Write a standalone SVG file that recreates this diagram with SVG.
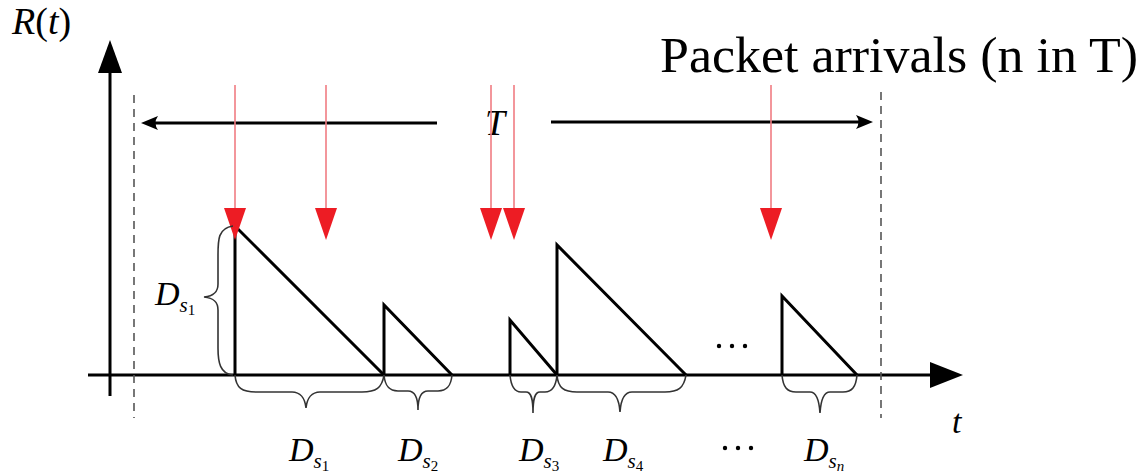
<svg xmlns="http://www.w3.org/2000/svg" width="1141" height="473" viewBox="0 0 1141 473">
<defs>
<style>
.ax{stroke:#000;stroke-width:3;fill:none}
.tri{stroke:#000;stroke-width:3;fill:none;stroke-linejoin:miter}
.br{stroke:#333;stroke-width:1.6;fill:none}
.dash{stroke:#555;stroke-width:1.6;stroke-dasharray:8,6;fill:none}
.rl{stroke:#f07c82;stroke-width:1.6}
.rh{fill:#ed1c24}
.m{font-family:"Liberation Serif",serif;font-style:italic;fill:#000}
.up{font-family:"Liberation Serif",serif;font-style:normal;fill:#000}
</style>
</defs>
<rect width="1141" height="473" fill="#fff"/>
<g id="axes">
<line class="ax" x1="110" y1="396" x2="110" y2="66"/>
<polygon points="110,40 98,73 122,73" fill="#000"/>
<line class="ax" x1="88" y1="375" x2="935" y2="375"/>
<polygon points="963,375 930,362 930,388" fill="#000"/>
</g>
<g id="dashes">
<line class="dash" x1="134" y1="95" x2="134" y2="418"/>
<line class="dash" x1="881" y1="92" x2="881" y2="418"/>
</g>
<g id="T-span">
<line class="ax" x1="150" y1="123" x2="437" y2="123" stroke-width="2.5"/>
<path d="M141,123 L158,116 Q153,123 158,130 Z" fill="#000"/>
<line class="ax" x1="551" y1="122" x2="864" y2="122" stroke-width="2.5"/>
<path d="M873,122 L856,115 Q861,122 856,129 Z" fill="#000"/>
<text class="m" x="485" y="135" font-size="36">T</text>
</g>
<g id="sawtooth">
<polyline class="tri" points="235,375 235,226 384,375"/>
<polyline class="tri" points="384,375 384,305 452,375"/>
<polyline class="tri" points="510,375 510,320 557,375"/>
<polyline class="tri" points="557,375 557,245 686,375"/>
<polyline class="tri" points="782,375 782,296 857,375"/>
</g>
<g id="arrivals">
<line class="rl" x1="235" y1="85" x2="235" y2="212"/>
<polygon class="rh" points="224,208 246,208 235,240"/>
<line class="rl" x1="326" y1="85" x2="326" y2="212"/>
<polygon class="rh" points="315,208 337,208 326,240"/>
<line class="rl" x1="491" y1="85" x2="491" y2="212"/>
<polygon class="rh" points="480,208 502,208 491,240"/>
<line class="rl" x1="514" y1="85" x2="514" y2="212"/>
<polygon class="rh" points="503,208 525,208 514,240"/>
<line class="rl" x1="771" y1="85" x2="771" y2="212"/>
<polygon class="rh" points="760,208 782,208 771,240"/>
</g>
<g id="braces">
<path class="br" d="M233,226 C218,228 218,240 218,255 L218,284 C218,292 214,296 204,297 C214,298 218,302 218,310 L218,348 C218,362 220,374 233,375"/>
<path class="br" d="M235,375 C236,388 242,392 256,392 L292,392 C300,392 305,398 306,408 C307,398 312,392 320,392 L362,392 C376,392 382,388 384,375"/>
<path class="br" d="M384,375 C385,386 389,391 398,391 L408,391 C414,391 418,397 418,410 C418,397 422,391 428,391 L438,391 C447,391 451,386 452,375"/>
<path class="br" d="M510,375 C511,386 514,392 521,392 L526,392 C531,392 533,398 533,413 C533,398 535,392 540,392 L545,392 C552,392 556,386 557,375"/>
<path class="br" d="M557,375 C558,388 564,392 577,392 L608,392 C615,392 619,398 620,412 C621,398 625,392 632,392 L665,392 C678,392 684,388 686,375"/>
<path class="br" d="M782,375 C783,387 787,392 796,392 L810,392 C816,392 819,398 820,413 C821,398 824,392 830,392 L843,392 C852,392 856,387 857,375"/>
</g>
<g id="labels">
<text class="m" x="12" y="34" font-size="38">R<tspan class="up">(</tspan>t<tspan class="up">)</tspan></text>
<text class="m" x="952" y="433" font-size="34">t</text>
<text class="up" x="660" y="72" font-size="50" textLength="478" lengthAdjust="spacingAndGlyphs">Packet arrivals (n in T)</text>
<text class="m" x="155" y="305" font-size="34">D<tspan font-size="21" dy="7">s</tspan><tspan class="up" font-size="15" dy="3">1</tspan></text>
<text class="m" x="289" y="461" font-size="34">D<tspan font-size="21" dy="7">s</tspan><tspan class="up" font-size="15" dy="3">1</tspan></text>
<text class="m" x="398" y="461" font-size="34">D<tspan font-size="21" dy="7">s</tspan><tspan class="up" font-size="15" dy="3">2</tspan></text>
<text class="m" x="519" y="461" font-size="34">D<tspan font-size="21" dy="7">s</tspan><tspan class="up" font-size="15" dy="3">3</tspan></text>
<text class="m" x="603" y="461" font-size="34">D<tspan font-size="21" dy="7">s</tspan><tspan class="up" font-size="15" dy="3">4</tspan></text>
<text class="m" x="804" y="461" font-size="34">D<tspan font-size="21" dy="7">s</tspan><tspan font-size="15" dy="3">n</tspan></text>
<g fill="#000">
<circle cx="719" cy="346" r="2.2"/><circle cx="732" cy="346" r="2.2"/><circle cx="745" cy="346" r="2.2"/>
<circle cx="725" cy="448" r="2.2"/><circle cx="738" cy="448" r="2.2"/><circle cx="751" cy="448" r="2.2"/>
</g>
</g>
</svg>
